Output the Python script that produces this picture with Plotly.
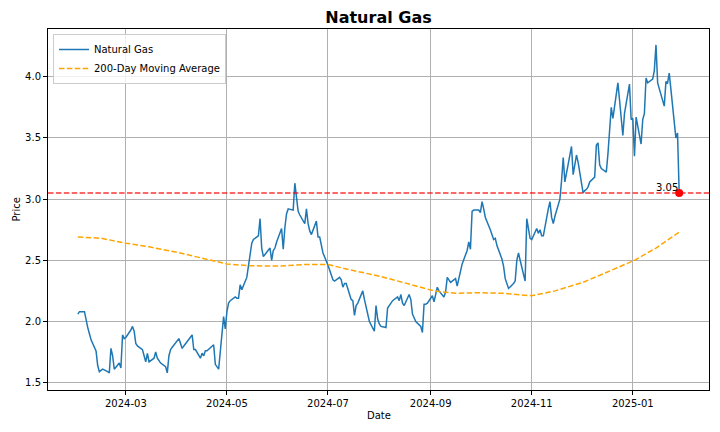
import pandas as pd
import plotly.graph_objs as go

# daily closes, one per business day
feb = [2.06, 2.08, 2.08, 2.00, 1.95, 1.90, 1.85, 1.76, 1.64, 1.59, 1.60, 1.61, 1.59, 1.58, 1.78, 1.72, 1.61, 1.66, 1.62, 1.89, 1.86]
mar = [1.87, 1.93, 1.96, 1.92, 1.82, 1.80, 1.77, 1.72, 1.67, 1.74, 1.67, 1.70, 1.75, 1.70, 1.68, 1.66, 1.63, 1.58, 1.72, 1.77, 1.79]
apr = [1.84, 1.86, 1.82, 1.78, 1.80, 1.86, 1.88, 1.89, 1.77, 1.77, 1.70, 1.74, 1.72, 1.76, 1.76, 1.80, 1.81, 1.65, 1.63, 1.61, 2.04, 1.94]
may = [2.08, 2.15, 2.17, 2.20, 2.19, 2.19, 2.30, 2.26, 2.36, 2.45, 2.54, 2.64, 2.67, 2.70, 2.84, 2.60, 2.53, 2.55, 2.60, 2.50, 2.58, 2.60, 2.65]
jun = [2.76, 2.59, 2.77, 2.88, 2.92, 2.91, 3.13, 3.03, 2.90, 2.87, 2.80, 2.92, 2.80, 2.74, 2.71, 2.82, 2.69, 2.69, 2.61, 2.56]
jul = [2.46, 2.42, 2.38, 2.34, 2.33, 2.36, 2.34, 2.28, 2.31, 2.31, 2.18, 2.17, 2.05, 2.13, 2.15, 2.25, 2.18, 2.12, 2.05, 2.00, 1.92, 2.13, 2.02]
aug = [1.98, 1.96, 1.95, 2.11, 2.13, 2.15, 2.17, 2.20, 2.17, 2.22, 2.15, 2.13, 2.22, 2.18, 2.06, 2.03, 2.00, 1.96, 1.91, 2.14, 2.14, 2.15]
sep = [2.21, 2.16, 2.22, 2.28, 2.25, 2.20, 2.24, 2.36, 2.34, 2.32, 2.35, 2.29, 2.35, 2.42, 2.47, 2.58, 2.65, 2.59, 2.90, 2.91, 2.91]
oct = [2.89, 2.98, 2.92, 2.85, 2.75, 2.70, 2.67, 2.68, 2.62, 2.51, 2.45, 2.35, 2.30, 2.27, 2.31, 2.33, 2.50, 2.56, 2.50, 2.33, 2.84, 2.75, 2.68]
nov = [2.67, 2.76, 2.72, 2.75, 2.70, 2.70, 2.92, 2.98, 2.85, 2.80, 2.86, 3.00, 3.15, 3.34, 3.14, 3.22, 3.43, 3.20, 3.28, 3.36, 3.30]
dec = [3.05, 3.07, 3.08, 3.10, 3.14, 3.18, 3.44, 3.46, 3.28, 3.25, 3.22, 3.37, 3.55, 3.75, 3.66, 3.95, 3.81, 3.65, 3.52, 3.70, 3.94, 3.65]
jan = [3.66, 3.35, 3.67, 3.45, 3.65, 3.70, 3.99, 3.95, 3.98, 4.05, 4.26, 3.95, 3.90, 3.76, 3.96, 3.95, 4.03, 3.90, 3.50, 3.54, 3.05]

prices = feb + mar + apr + may + jun + jul + aug + sep + oct + nov + dec + jan
dates = pd.bdate_range("2024-02-01", "2025-01-29")

# 200-day moving average, sampled about twice a month
ma_dates = ["2024-02-01", "2024-02-15", "2024-03-01", "2024-03-15", "2024-04-01", "2024-04-15",
            "2024-05-01", "2024-05-15", "2024-06-03", "2024-06-17", "2024-07-01", "2024-07-15",
            "2024-08-01", "2024-08-15", "2024-09-03", "2024-09-16", "2024-10-01", "2024-10-15",
            "2024-11-01", "2024-11-15", "2024-12-02", "2024-12-16", "2025-01-02", "2025-01-15",
            "2025-01-29"]
ma_values = [2.69, 2.68, 2.64, 2.61, 2.565, 2.52,
             2.47, 2.455, 2.453, 2.465, 2.465, 2.42,
             2.37, 2.32, 2.25, 2.23, 2.235, 2.23,
             2.21, 2.25, 2.32, 2.40, 2.50, 2.60,
             2.73]

y_ticks = [1.5, 2.0, 2.5, 3.0, 3.5, 4.0]

s = pd.Series(prices, index=dates)
last_date = s.index[-1]
last_price = s.iloc[-1]

font = "DejaVu Sans"
dash = "5.5px,2.4px"

# the page body has an 8px margin, so the figure is 8px smaller each way
W, H = 712, 424
ml, mr, mt, mb = 40, 11, 21, 42
pw, ph = W - ml - mr, H - mt - mb

fig = go.Figure()

fig.add_trace(go.Scatter(x=s.index, y=s.values, mode="lines", name="Natural Gas",
                         line=dict(color="#1f77b4", width=1.5)))
fig.add_trace(go.Scatter(x=pd.to_datetime(ma_dates), y=ma_values, mode="lines",
                         name="200-Day Moving Average",
                         line=dict(color="orange", width=1.5, dash=dash)))
fig.add_trace(go.Scatter(x=[last_date], y=[last_price], mode="markers", showlegend=False,
                         marker=dict(color="red", size=8)))

# current price line across the whole axes
fig.add_shape(type="line", xref="paper", x0=0, x1=1, yref="y", y0=last_price, y1=last_price,
              line=dict(color="rgba(255,0,0,0.8)", width=1.5, dash=dash))

fig.add_annotation(x=last_date, y=last_price, text="{:.2f}".format(last_price), showarrow=False,
                   xanchor="right", yanchor="bottom", xshift=1, yshift=-2,
                   font=dict(family=font, size=10, color="black"))

# axis titles placed by hand so the margins stay fixed
fig.add_annotation(text="Date", xref="paper", yref="paper", x=0.5, y=-25 / ph, xanchor="center",
                   yanchor="middle", showarrow=False, font=dict(family=font, size=10))
fig.add_annotation(text="Price", xref="paper", yref="paper", x=-32 / pw, y=0.5, xanchor="center",
                   yanchor="middle", textangle=-90, showarrow=False, font=dict(family=font, size=10))

fig.update_layout(
    width=W, height=H,
    margin=dict(l=ml, r=mr, t=mt, b=mb, autoexpand=False),
    paper_bgcolor="white", plot_bgcolor="white",
    font=dict(family=font, size=10, color="black"),
    title=dict(text="<b>Natural Gas</b>", x=0.5, xref="paper", xanchor="center",
               y=1 - 9 / H, yanchor="middle", font=dict(family=font, size=16)),
    legend=dict(x=5 / pw, y=1 - 5 / ph, xanchor="left", yanchor="top",
                bgcolor="rgba(255,255,255,0.8)", bordercolor="#cccccc", borderwidth=1,
                font=dict(family=font, size=10), tracegroupgap=0, itemwidth=30),
    showlegend=True,
)

fig.update_xaxes(
    range=["2024-01-14", "2025-02-16"],
    tickformat="%Y-%m", dtick="M2", tick0="2024-03-01",
    showgrid=True, gridcolor="#b0b0b0", gridwidth=0.8,
    showline=True, linecolor="black", linewidth=1, mirror=True,
    ticks="outside", ticklen=4, tickcolor="black",
    tickfont=dict(family=font, size=10),
    automargin=False, zeroline=False,
)
fig.update_yaxes(
    range=[1.44, 4.39],
    tickvals=y_ticks, tickformat=".1f",
    showgrid=True, gridcolor="#b0b0b0", gridwidth=0.8,
    showline=True, linecolor="black", linewidth=1, mirror=True,
    ticks="outside", ticklen=4, tickcolor="black",
    tickfont=dict(family=font, size=10),
    automargin=False, zeroline=False,
)

fig.write_html("out.html")
